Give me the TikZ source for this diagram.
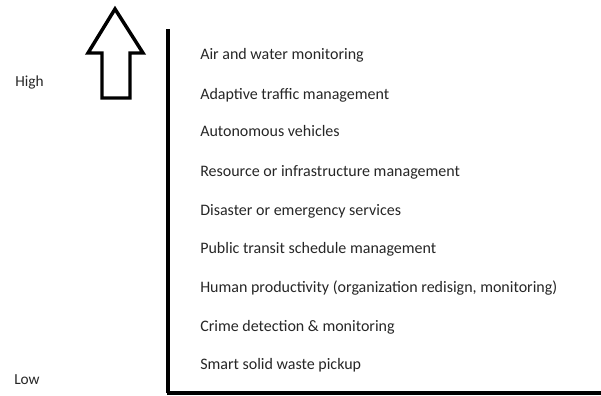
\documentclass[tikz,border=0pt]{standalone}
\usepackage{fontspec}
\setmainfont{Carlito}
\usetikzlibrary{positioning}
\tikzset{
  item/.style={anchor=base west, inner sep=0pt, text=black!85, font=\fontsize{12}{14}\selectfont},
  level/.style={anchor=base west, inner sep=0pt, text=black!85, font=\fontsize{11.5}{14}\selectfont},
}
\begin{document}
\begin{tikzpicture}[x=0.75pt, y=-0.75pt]
			%%%%% START %%%%%
			\useasboundingbox (0, 0) rectangle (601, 396);
			
			\draw[line width=2.6pt, line join=miter] (115, 9) -- (143, 53) -- (130, 53) -- (130, 98) -- (102, 98) -- (102, 53) -- (88, 53) -- cycle;
			
			\draw[line width=3pt] (168, 29) -- (168, 393);
			\draw[line width=2.4pt] (166.5, 393) -- (601, 393);
			
			\node[level] (high) at (15, 86) {High};
			\node[level] (low) at (14, 384) {Low};
			
			\node[item] (air) at (200, 60) {Air and water monitoring};
			\node[item] (traffic) at (200, 99) {Adaptive traffic management};
			\node[item] (auto) at (200, 137) {Autonomous vehicles};
			\node[item] (res) at (200, 176) {Resource or infrastructure management};
			\node[item] (dis) at (200, 215) {Disaster or emergency services};
			\node[item] (transit) at (200, 253) {Public transit schedule management};
			\node[item] (human) at (200, 292) {Human productivity (organization redisign, monitoring)};
			\node[item] (crime) at (200, 331) {Crime detection \& monitoring};
			\node[item] (waste) at (200, 369) {Smart solid waste pickup};
			
			%%%%% END %%%%%
\end{tikzpicture}
\end{document}
